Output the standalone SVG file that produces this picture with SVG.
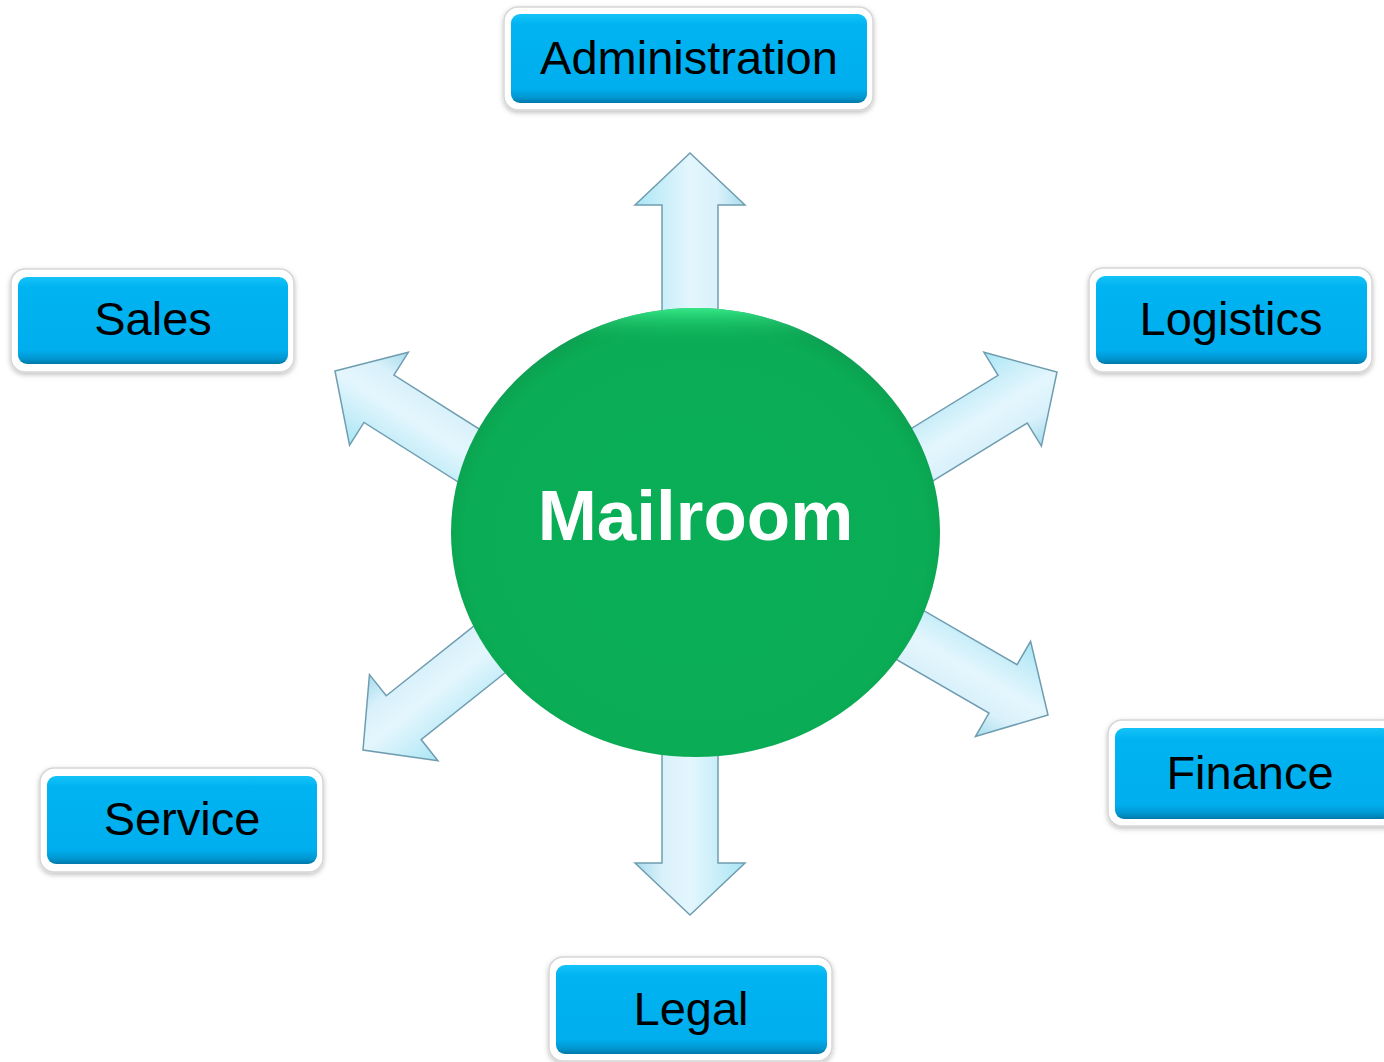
<svg xmlns="http://www.w3.org/2000/svg" width="1384" height="1062" viewBox="0 0 1384 1062">
  <defs>
    <linearGradient id="gBlue" x1="0" y1="0" x2="0" y2="1">
      <stop offset="0" stop-color="#14c3f7"/>
      <stop offset="0.12" stop-color="#00b3f1"/>
      <stop offset="0.84" stop-color="#00aeee"/>
      <stop offset="0.94" stop-color="#0096d0"/>
      <stop offset="1" stop-color="#0078a8"/>
    </linearGradient>
    <linearGradient id="gArrow" gradientUnits="userSpaceOnUse" x1="-55" y1="0" x2="55" y2="0">
      <stop offset="0" stop-color="#a8e6f4"/>
      <stop offset="0.25" stop-color="#c9eef9"/>
      <stop offset="0.5" stop-color="#e4f6fd"/>
      <stop offset="0.75" stop-color="#d9f1fb"/>
      <stop offset="1" stop-color="#a8dcec"/>
    </linearGradient>
    <radialGradient id="gGreen" cx="0.5" cy="0.52" r="0.52">
      <stop offset="0" stop-color="#09ae57"/>
      <stop offset="0.9" stop-color="#0aad56"/>
      <stop offset="0.97" stop-color="#0ba552"/>
      <stop offset="1" stop-color="#129a55"/>
    </radialGradient>
    <linearGradient id="gRim" x1="0" y1="0" x2="0" y2="1">
      <stop offset="0" stop-color="#3af08c" stop-opacity="0.9"/>
      <stop offset="0.08" stop-color="#0aad56" stop-opacity="0"/>
      <stop offset="1" stop-color="#0aad56" stop-opacity="0"/>
    </linearGradient>
    <filter id="shadow" x="-10%" y="-20%" width="120%" height="150%">
      <feDropShadow dx="0" dy="2" stdDeviation="2.5" flood-color="#000" flood-opacity="0.25"/>
    </filter>
    <filter id="ashadow" x="-20%" y="-20%" width="140%" height="140%">
      <feDropShadow dx="0" dy="0" stdDeviation="1" flood-color="#4a7a90" flood-opacity="0.4"/>
    </filter>
    <path id="arrow" d="M0,0 L55,52 L28,52 L28,200 L-28,200 L-28,52 L-55,52 Z"/>
    <style>
      .frame { fill: #ffffff; stroke: #d6d6d6; stroke-width: 1.5; filter: url(#shadow); }
      .blue { fill: url(#gBlue); }
      .label { font-family: "Liberation Sans", Arial, sans-serif; font-size: 47px; fill: #000000; text-anchor: middle; }
      .arr { fill: url(#gArrow); stroke: #6f9db0; stroke-width: 1.5; stroke-linejoin: miter; }
      .title { font-family: "Liberation Sans", Arial, sans-serif; font-size: 71px; font-weight: bold; fill: #ffffff; text-anchor: middle; }
    </style>
  </defs>
  <rect width="1384" height="1062" fill="#ffffff"/>

  <g id="connectors">
    <use href="#arrow" class="arr" transform="translate(690,153)"/>
    <use href="#arrow" class="arr" transform="translate(690,915) rotate(180)"/>
    <use href="#arrow" class="arr" transform="translate(335,371) rotate(-57.7)"/>
    <use href="#arrow" class="arr" transform="translate(1057,372) rotate(58.5)"/>
    <use href="#arrow" class="arr" transform="translate(1048,715) rotate(120.1)"/>
    <use href="#arrow" class="arr" transform="translate(363,750) rotate(-128.5)"/>
  </g>

  <g id="mailroom">
    <ellipse cx="695.5" cy="532.5" rx="244.5" ry="224.5" fill="url(#gGreen)"/>
    <ellipse cx="695.5" cy="532.5" rx="244.5" ry="224.5" fill="url(#gRim)"/>
    <text class="title" x="695.5" y="540">Mailroom</text>
  </g>

  <g id="administration">
    <rect class="frame" x="504" y="7" width="369" height="103" rx="14"/>
    <rect class="blue" x="511" y="14" width="356" height="89" rx="9"/>
    <text class="label" x="689" y="74">Administration</text>
  </g>

  <g id="sales">
    <rect class="frame" x="11" y="269" width="283" height="103" rx="14"/>
    <rect class="blue" x="18" y="277" width="270" height="87" rx="9"/>
    <text class="label" x="153" y="335">Sales</text>
  </g>

  <g id="logistics">
    <rect class="frame" x="1089" y="268" width="283" height="104" rx="14"/>
    <rect class="blue" x="1096" y="276" width="271" height="88" rx="9"/>
    <text class="label" x="1231" y="335">Logistics</text>
  </g>

  <g id="finance">
    <rect class="frame" x="1108" y="720" width="290" height="106" rx="14"/>
    <rect class="blue" x="1115" y="728" width="276" height="91" rx="9"/>
    <text class="label" x="1250" y="789">Finance</text>
  </g>

  <g id="service">
    <rect class="frame" x="40" y="768" width="283" height="104" rx="14"/>
    <rect class="blue" x="47" y="776" width="270" height="88" rx="9"/>
    <text class="label" x="182" y="835">Service</text>
  </g>

  <g id="legal">
    <rect class="frame" x="549" y="957" width="283" height="104" rx="14"/>
    <rect class="blue" x="556" y="965" width="271" height="89" rx="9"/>
    <text class="label" x="691" y="1025">Legal</text>
  </g>
</svg>
